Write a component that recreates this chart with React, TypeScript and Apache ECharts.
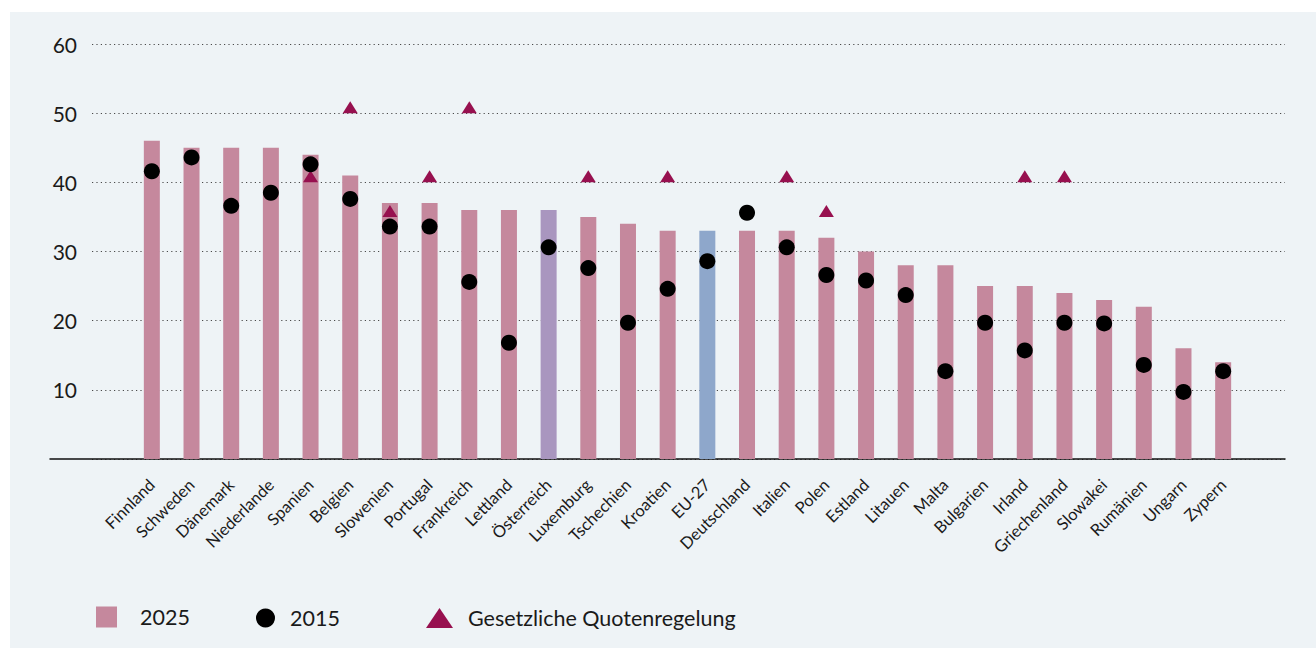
import React, { useEffect, useRef } from "react";
import * as echarts from "echarts";

const categories = [
  "Finnland", "Schweden", "Dänemark", "Niederlande", "Spanien", "Belgien", "Slowenien",
  "Portugal", "Frankreich", "Lettland", "Österreich", "Luxemburg", "Tschechien", "Kroatien",
  "EU-27", "Deutschland", "Italien", "Polen", "Estland", "Litauen", "Malta", "Bulgarien",
  "Irland", "Griechenland", "Slowakei", "Rumänien", "Ungarn", "Zypern",
];
const values2025 = [46, 45, 45, 45, 44, 41, 37, 37, 36, 36, 36, 35, 34, 33, 33, 33, 33, 32, 30, 28, 28, 25, 25, 24, 23, 22, 16, 14];
const values2015 = [41.6, 43.6, 36.6, 38.5, 42.6, 37.6, 33.6, 33.6, 25.6, 16.8, 30.6, 27.6, 19.7, 24.6, 28.6, 35.6, 30.6, 26.6, 25.8, 23.7, 12.7, 19.7, 15.7, 19.7, 19.6, 13.6, 9.7, 12.7];
const quota: (number | null)[] = [null, null, null, null, 40, 50, 35, 40, 50, null, null, 40, null, 40, null, null, 40, 35, null, null, null, null, 40, 40, null, null, null, null];
const yTicks = [0, 10, 20, 30, 40, 50, 60];
const seriesNames = ["2025", "2015", "Gesetzliche Quotenregelung"];
const highlight: Record<string, string> = { "Österreich": "#A996BF", "EU-27": "#8EA7CB" };

const BAR = "#C5889D";
const TRI = "#97104F";
const FONT = "Lato, 'Noto Sans', sans-serif";

export default function App() {
  const ref = useRef<HTMLDivElement>(null);
  useEffect(() => {
    if (!ref.current) return;
    const chart = echarts.init(ref.current, null, { renderer: "svg" });
    const yMin = yTicks[0];
    const yMax = yTicks[yTicks.length - 1];
    const grids = [
      { left: 92, right: 31, top: 44, bottom: 189 },
      { left: 50, right: 31, top: 44, bottom: 189 },
      { left: 132, right: 73, top: 44, bottom: 189 },
    ];
    chart.setOption({
      animation: false,
      textStyle: { fontFamily: FONT },
      grid: grids,
      xAxis: [
        { gridIndex: 0, type: "value", show: false, min: 0, max: 1 },
        {
          gridIndex: 1, type: "value", min: 0, max: 1,
          axisLine: { show: true, lineStyle: { color: "#111", width: 1.5 } },
          axisTick: { show: false }, axisLabel: { show: false }, splitLine: { show: false },
        },
        {
          gridIndex: 2, type: "category", data: categories,
          axisLine: { show: false }, axisTick: { show: false },
          axisLabel: {
            interval: 0, rotate: 45, margin: 23, fontSize: 16.5, color: "#1a1a1a", fontFamily: FONT,
          },
        },
      ],
      yAxis: [
        {
          gridIndex: 0, type: "value", min: yMin, max: yMax, interval: 10,
          axisLine: { show: false }, axisTick: { show: false },
          axisLabel: {
            margin: 15, fontSize: 21, color: "#1a1a1a", fontFamily: FONT,
            formatter: (v: number) => (v === 0 ? "" : String(v)),
          },
          splitLine: { show: true, lineStyle: { color: "#4a4a4a", width: 1.2, type: [1.2, 3.2] } },
        },
        { gridIndex: 1, type: "value", min: yMin, max: yMax, show: false },
        { gridIndex: 2, type: "value", min: yMin, max: yMax, show: false },
      ],
      legend: [
        {
          data: [{ name: seriesNames[0], icon: "rect" }], left: 91, top: 601,
          itemWidth: 21, itemHeight: 21, selectedMode: false,
          textStyle: { fontSize: 21.5, color: "#1a1a1a", padding: [0, 0, 0, 18], fontFamily: FONT },
        },
        {
          data: [{ name: seriesNames[1], icon: "circle" }], left: 251, top: 602,
          itemWidth: 19, itemHeight: 19, selectedMode: false,
          textStyle: { fontSize: 21.5, color: "#1a1a1a", padding: [0, 0, 0, 10], fontFamily: FONT },
        },
        {
          data: [{ name: seriesNames[2], icon: "triangle" }], left: 421, top: 602,
          itemWidth: 27, itemHeight: 20, selectedMode: false,
          textStyle: { fontSize: 21.5, color: "#1a1a1a", padding: [0, 0, 0, 10], fontFamily: FONT },
        },
      ],
      series: [
        {
          name: seriesNames[0], type: "bar", xAxisIndex: 2, yAxisIndex: 2, barWidth: 16,
          itemStyle: { color: BAR, opacity: 1 },
          data: values2025.map((v, i) =>
            highlight[categories[i]] ? { value: v, itemStyle: { color: highlight[categories[i]] } } : v
          ),
          z: 2,
        },
        {
          name: seriesNames[2], type: "scatter", xAxisIndex: 2, yAxisIndex: 2,
          symbol: "triangle", symbolSize: [15, 12], symbolOffset: [0, -6],
          itemStyle: { color: TRI, opacity: 1 },
          data: quota.map((v) => (v == null ? "-" : v)),
          z: 3,
        },
        {
          name: seriesNames[1], type: "scatter", xAxisIndex: 2, yAxisIndex: 2,
          symbol: "circle", symbolSize: 16,
          itemStyle: { color: "#000", opacity: 1 },
          data: values2015,
          z: 4,
        },
      ],
    });
    return () => chart.dispose();
  }, []);
  return (
    <div style={{ position: "fixed", left: 0, top: 0, width: 1316, height: 648, background: "#fff" }}>
      <div style={{ position: "absolute", left: 10, top: 12, right: 0, bottom: 0, background: "#EEF3F6" }} />
      <div ref={ref} style={{ position: "absolute", left: 0, top: 0, width: 1316, height: 648 }} />
    </div>
  );
}
